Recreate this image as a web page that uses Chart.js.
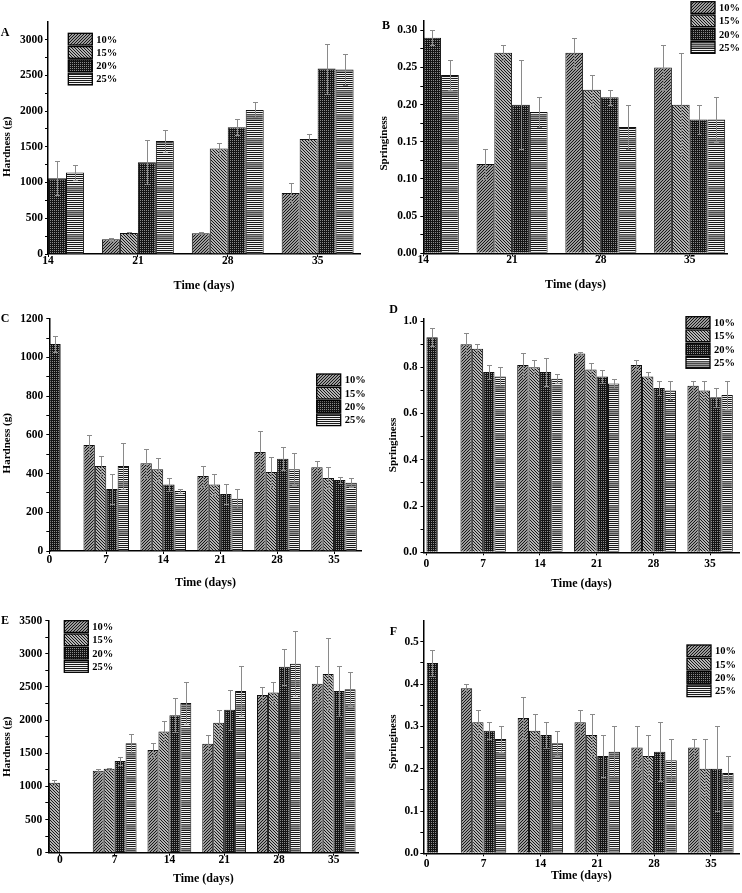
<!DOCTYPE html>
<html>
<head>
<meta charset="utf-8">
<script src="https://cdn.jsdelivr.net/npm/chart.js@4.4.1/dist/chart.umd.min.js"></script>
<style>
  body { margin: 0; background: #fff; }
  #wrap { position: relative; width: 742px; height: 893px; overflow: hidden; }
  canvas { position: absolute; }
</style>
</head>
<body>
<div id="wrap">
  <canvas id="chartA" width="371" height="295" style="left:0;top:0"></canvas>
  <canvas id="chartB" width="371" height="295" style="left:371px;top:0"></canvas>
  <canvas id="chartC" width="371" height="295" style="left:0;top:295px"></canvas>
  <canvas id="chartD" width="371" height="295" style="left:371px;top:295px"></canvas>
  <canvas id="chartE" width="371" height="303" style="left:0;top:590px"></canvas>
  <canvas id="chartF" width="371" height="303" style="left:371px;top:590px"></canvas>
</div>
<script>
// Series / categories
const seriesLabels = ['10%', '15%', '20%', '25%'];
const daysAB = [14, 21, 28, 35];
const daysCF = [0, 7, 14, 21, 28, 35];

// Y tick labels
const ticksA = [0, 500, 1000, 1500, 2000, 2500, 3000];
const ticksB = [0, 0.05, 0.1, 0.15, 0.2, 0.25, 0.3];
const ticksC = [0, 200, 400, 600, 800, 1000, 1200];
const ticksD = [0, 0.2, 0.4, 0.6, 0.8, 1.0];
const ticksE = [0, 500, 1000, 1500, 2000, 2500, 3000, 3500];
const ticksF = [0, 0.1, 0.2, 0.3, 0.4, 0.5];

// A - hardness (rows: 10%, 15%, 20%, 25%)
const hardnessA = [
    [null, 205, 290, 855],
    [null, 294, 1477, 1608],
    [1060, 1285, 1775, 2595],
    [1140, 1580, 2015, 2580]
];
const hardnessAErr = [
    [null, 18, 14, 145],
    [null, 8, 80, 70],
    [235, 305, 110, 350],
    [100, 155, 105, 215]
];

// B - springiness
const springB = [
    [null, 0.12, 0.27, 0.25],
    [null, 0.27, 0.22, 0.20],
    [0.29, 0.20, 0.21, 0.18],
    [0.24, 0.19, 0.17, 0.18]
];
const springBErr = [
    [null, 0.02, 0.02, 0.03],
    [null, 0.01, 0.02, 0.07],
    [0.01, 0.06, 0.01, 0.02],
    [0.02, 0.02, 0.03, 0.03]
];

// C - hardness
const hardnessC = [
    [null, 547, 453, 387, 511, 432],
    [null, 439, 422, 343, 408, 377],
    [1069, 320, 344, 294, 477, 367],
    [null, 439, 310, 270, 422, 353]
];
const hardnessCErr = [
    [null, 50, 74, 54, 109, 31],
    [null, 52, 60, 56, 77, 57],
    [43, 79, 35, 52, 60, 14],
    [null, 117, 8, 48, 82, 24]
];

// D - springiness
const springD = [
    [null, 0.90, 0.81, 0.86, 0.81, 0.72],
    [null, 0.88, 0.80, 0.79, 0.76, 0.70],
    [0.93, 0.78, 0.78, 0.76, 0.71, 0.67],
    [null, 0.76, 0.75, 0.73, 0.70, 0.68]
];
const springDErr = [
    [null, 0.05, 0.05, 0.005, 0.02, 0.02],
    [null, 0.02, 0.03, 0.03, 0.02, 0.04],
    [0.04, 0.03, 0.06, 0.03, 0.03, 0.04],
    [null, 0.04, 0.02, 0.02, 0.04, 0.06]
];

// E - hardness
const hardnessE = [
    [null, 1235, 1550, 1645, 2380, 2550],
    [1055, 1265, 1830, 1960, 2415, 2695],
    [null, 1385, 2075, 2155, 2805, 2440],
    [null, 1650, 2260, 2440, 2850, 2465]
];
const hardnessEErr = [
    [null, 21, 105, 126, 120, 262],
    [41, 20, 156, 196, 157, 539],
    [null, 55, 256, 297, 271, 372],
    [null, 141, 321, 382, 493, 257]
];

// F - springiness
const springF = [
    [null, 0.39, 0.32, 0.31, 0.25, 0.25],
    [null, 0.31, 0.29, 0.28, 0.23, 0.20],
    [0.45, 0.29, 0.28, 0.23, 0.24, 0.20],
    [null, 0.27, 0.26, 0.24, 0.22, 0.19]
];
const springFErr = [
    [null, 0.01, 0.05, 0.03, 0.05, 0.02],
    [null, 0.03, 0.04, 0.05, 0.05, 0.07],
    [0.03, 0.02, 0.03, 0.05, 0.07, 0.10],
    [null, 0.03, 0.03, 0.06, 0.05, 0.04]
];

// Panel layout (canvas-relative pixels)
const panels = [
    { id: 'chartA', letter: 'A', yTitle: 'Hardness (g)', days: daysAB, means: hardnessA, errs: hardnessAErr,
      yTicks: ticksA, dec: 0, yMax: 3250, xMin: 14, xMax: 38.3,
      area: { l: 48, t: 21.7, r: 360, b: 254 }, yPad: 2, xPad: -3, xTitlePad: 1.8,
      letterAt: [5, 33], yTitleAt: [7.3, 146.7], legendAt: [68.3, 33.3] },
    { id: 'chartB', letter: 'B', yTitle: 'Springiness', days: daysAB, means: springB, errs: springBErr,
      yTicks: ticksB, dec: 2, yMax: 0.313, xMin: 14, xMax: 38.0,
      area: { l: 52.3, t: 20.7, r: 356.7, b: 253.3 }, yPad: 3, xPad: -3, xTitlePad: 2.8,
      letterAt: [15, 26], yTitleAt: [13.3, 143.3], legendAt: [320, 1.7] },
    { id: 'chartC', letter: 'C', yTitle: 'Hardness (g)', days: daysCF, means: hardnessC, errs: hardnessCErr,
      yTicks: ticksC, dec: 0, yMax: 1200, xMin: 0, xMax: 38.4,
      area: { l: 49.3, t: 23.7, r: 361.7, b: 256 }, yPad: 3, xPad: -1, xTitlePad: 0,
      letterAt: [5, 24], yTitleAt: [7.3, 148.3], legendAt: [316.7, 79] },
    { id: 'chartD', letter: 'D', yTitle: 'Springiness', days: daysCF, means: springD, errs: springDErr,
      yTicks: ticksD, dec: 1, yMax: 1.01, xMin: -0.36, xMax: 38.6,
      area: { l: 52.5, t: 23.7, r: 368.3, b: 257.3 }, yPad: 3, xPad: 2, xTitlePad: -1.5,
      letterAt: [22.7, 15], yTitleAt: [21.7, 150], legendAt: [315, 21.7] },
    { id: 'chartE', letter: 'E', yTitle: 'Hardness (g)', days: daysCF, means: hardnessE, errs: hardnessEErr,
      yTicks: ticksE, dec: 0, yMax: 3500, xMin: -1.48, xMax: 38.15,
      area: { l: 48.3, t: 30.7, r: 358.3, b: 262.7 }, yPad: 3, xPad: -3, xTitlePad: 6.5,
      letterAt: [5, 31], yTitleAt: [7.3, 156.7], legendAt: [64.3, 30.7] },
    { id: 'chartF', letter: 'F', yTitle: 'Springiness', days: daysCF, means: springF, errs: springFErr,
      yTicks: ticksF, dec: 1, yMax: 0.55, xMin: -0.42, xMax: 38.5,
      area: { l: 52.3, t: 30.7, r: 368.3, b: 263.3 }, yPad: 1.5, xPad: 1, xTitlePad: 9.8,
      letterAt: [22.3, 41.7], yTitleAt: [21.7, 151.7], legendAt: [316, 55] }
];

const FONT = '"Liberation Serif", "Times New Roman", serif';
Chart.defaults.font.family = FONT;
Chart.defaults.font.weight = 'bold';
Chart.defaults.color = '#000';

// Hatch patterns, one per series
function makeTile(w, h, paint) {
    const c = document.createElement('canvas');
    c.width = w;
    c.height = h;
    paint(c.getContext('2d'));
    return c;
}

function makeFills(ctx) {
    const diag = (dir, bg) => makeTile(3, 3, g => {
        g.fillStyle = bg;
        g.fillRect(0, 0, 3, 3);
        g.fillStyle = '#161616';
        for (let x = 0; x < 3; x++) {
            for (let y = 0; y < 3; y++) {
                const k = dir > 0 ? (x + y) % 3 : (x - y + 3) % 3;
                if (k === 0) g.fillRect(x, y, 1, 1);
            }
        }
    });
    const dots = makeTile(2, 2, g => {
        g.fillStyle = '#141414';
        g.fillRect(0, 0, 2, 2);
        g.fillStyle = '#8c8c8c';
        g.fillRect(0, 0, 1, 1);
    });
    const stripes = makeTile(1, 24, g => {
        for (let y = 0; y < 24; y++) {
            if (y < 18) g.fillStyle = y % 2 === 0 ? '#1a1a1a' : '#f2f2f2';
            else g.fillStyle = y % 2 === 0 ? '#4a4a4a' : '#9a9a9a';
            g.fillRect(0, y, 1, 1);
        }
    });
    return [
        ctx.createPattern(diag(1, '#9c9c9c'), 'repeat'),
        ctx.createPattern(diag(-1, '#b4b4b4'), 'repeat'),
        ctx.createPattern(dots, 'repeat'),
        ctx.createPattern(stripes, 'repeat')
    ];
}

// Error bars (mean +/- error) drawn at each bar
const errorBars = {
    id: 'errorBars',
    afterDatasetsDraw(chart) {
        const { ctx, scales: { y } } = chart;
        ctx.save();
        ctx.strokeStyle = '#8a8a8a';
        ctx.lineWidth = 1;
        chart.data.datasets.forEach((ds, i) => {
            chart.getDatasetMeta(i).data.forEach((bar, j) => {
                const v = ds.data[j];
                const e = ds.errors[j];
                if (v == null || e == null) return;
                const x = Math.round(bar.x) + 0.5;
                const yTop = Math.round(y.getPixelForValue(v + e)) + 0.5;
                const yBot = Math.round(y.getPixelForValue(v - e)) + 0.5;
                ctx.beginPath();
                ctx.moveTo(x, yTop);
                ctx.lineTo(x, yBot);
                ctx.moveTo(x - 2.5, yTop);
                ctx.lineTo(x + 2.5, yTop);
                ctx.moveTo(x - 2.5, yBot);
                ctx.lineTo(x + 2.5, yBot);
                ctx.stroke();
            });
        });
        ctx.restore();
    }
};

// Panel letter, y title and legend
function decor(p, fills) {
    return {
        id: 'decor',
        afterDraw(chart) {
            const ctx = chart.ctx;
            ctx.save();
            ctx.fillStyle = '#000';
            ctx.font = 'bold 12px ' + FONT;
            ctx.textAlign = 'center';
            ctx.textBaseline = 'middle';
            ctx.fillText(p.letter, p.letterAt[0], p.letterAt[1]);

            ctx.save();
            ctx.font = 'bold 11px ' + FONT;
            ctx.translate(p.yTitleAt[0], p.yTitleAt[1]);
            ctx.rotate(-Math.PI / 2);
            ctx.fillText(p.yTitle, 0, 0);
            ctx.restore();

            ctx.font = 'bold 10.5px ' + FONT;
            ctx.textAlign = 'left';
            seriesLabels.forEach((lab, i) => {
                const x = p.legendAt[0];
                const y = p.legendAt[1] + i * 13.3;
                ctx.fillStyle = fills[i];
                ctx.fillRect(x, y, 24, 11.7);
                ctx.strokeStyle = '#000';
                ctx.lineWidth = 1.3;
                ctx.strokeRect(x, y, 24, 11.7);
                ctx.fillStyle = '#000';
                ctx.fillText(lab, x + 28, y + 6.5);
            });
            ctx.restore();
        }
    };
}

function withMinor(ticks) {
    const out = [];
    ticks.forEach((t, i) => {
        out.push(t);
        if (i < ticks.length - 1) out.push((t + ticks[i + 1]) / 2);
    });
    return out;
}

function buildChart(p) {
    const canvas = document.getElementById(p.id);
    const ctx = canvas.getContext('2d');
    const fills = makeFills(ctx);
    const W = canvas.width;
    const H = canvas.height;

    return new Chart(ctx, {
        type: 'bar',
        data: {
            labels: p.days,
            datasets: seriesLabels.map((lab, i) => ({
                label: lab,
                data: p.means[i],
                errors: p.errs[i],
                backgroundColor: fills[i],
                borderColor: '#111',
                borderWidth: 1,
                categoryPercentage: 0.8,
                barPercentage: 1.0
            }))
        },
        options: {
            responsive: false,
            animation: false,
            devicePixelRatio: 1,
            layout: { padding: { left: 0, top: p.area.t, right: W - p.area.r, bottom: 0 } },
            plugins: { legend: { display: false }, tooltip: { enabled: false } },
            scales: {
                x: {
                    type: 'linear',
                    min: p.xMin,
                    max: p.xMax,
                    offset: false,
                    z: 1,
                    afterBuildTicks: s => { s.ticks = p.days.map(v => ({ value: v })); },
                    afterFit: s => { s.height = H - p.area.b; },
                    grid: { offset: false, drawOnChartArea: false, tickLength: 3, color: '#000', lineWidth: 1 },
                    border: { color: '#000', width: 1.5 },
                    ticks: {
                        font: { size: 11.5, weight: 'bold' },
                        padding: p.xPad,
                        maxRotation: 0,
                        autoSkip: false,
                        callback: v => String(v)
                    },
                    title: {
                        display: true,
                        text: 'Time (days)',
                        font: { size: 12, weight: 'bold' },
                        padding: { top: 0, bottom: p.xTitlePad }
                    }
                },
                y: {
                    min: 0,
                    max: p.yMax,
                    z: 1,
                    afterBuildTicks: s => { s.ticks = withMinor(p.yTicks).map(v => ({ value: v })); },
                    afterFit: s => { s.width = p.area.l; },
                    grid: { drawOnChartArea: false, tickLength: 3, color: '#000', lineWidth: 1 },
                    border: { color: '#000', width: 1.5 },
                    ticks: {
                        font: { size: 11.5, weight: 'bold' },
                        padding: p.yPad,
                        autoSkip: false,
                        callback: v => p.yTicks.some(t => Math.abs(t - v) < 1e-9) ? v.toFixed(p.dec) : ''
                    }
                }
            }
        },
        plugins: [errorBars, decor(p, fills)]
    });
}

panels.forEach(buildChart);
</script>
</body>
</html>
